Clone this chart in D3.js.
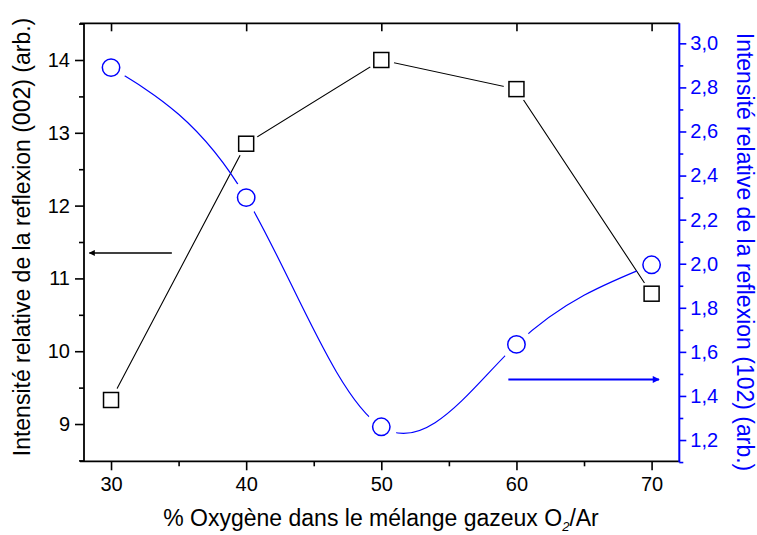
<!DOCTYPE html>
<html><head><meta charset="utf-8">
<script src="https://cdn.jsdelivr.net/npm/d3@7"></script>
<style>body{margin:0;background:#fff}svg{display:block}text{font-family:"Liberation Sans",Arial,sans-serif}</style>
</head><body>
<svg id="c" width="757" height="535"></svg>
<script>
const oxygen = [30, 40, 50, 60, 70];
const refl002 = [9.33, 12.85, 14.0, 13.6, 10.79];
const refl102 = [2.89, 2.30, 1.26, 1.634, 1.995];
const xTicks = [30, 40, 50, 60, 70];
const leftTicks = [9, 10, 11, 12, 13, 14];
const rightTicks = [1.2, 1.4, 1.6, 1.8, 2.0, 2.2, 2.4, 2.6, 2.8, 3.0];
const leftArrow = {x1: 34.5, x2: 28.4, y: 11.35};
const rightArrow = {x1: 59.4, x2: 70.55, y: 1.475};

const W = 757, H = 535;
const L = 84, R = 679.3, T = 23.3, B = 461.3;
const blue = "#0000ff";
const svg = d3.select("#c");

const x = d3.scaleLinear().domain([28, 72.05]).range([L, R]);
const yL = d3.scaleLinear().domain([8.488, 14.504]).range([B, T]);
const yR = d3.scaleLinear().domain([1.1035, 3.0909]).range([B, T]);

const defs = svg.append("defs");
defs.append("marker").attr("id","ahK").attr("viewBox","0 0 10 10").attr("refX",9).attr("refY",5)
  .attr("markerWidth",10).attr("markerHeight",6).attr("markerUnits","userSpaceOnUse").attr("orient","auto")
  .append("path").attr("d","M0,0 L10,5 L0,10 Z").attr("fill","#000");
defs.append("marker").attr("id","ahB").attr("viewBox","0 0 10 10").attr("refX",9).attr("refY",5)
  .attr("markerWidth",11).attr("markerHeight",7).attr("markerUnits","userSpaceOnUse").attr("orient","auto")
  .append("path").attr("d","M0,0 L10,5 L0,10 Z").attr("fill",blue);

const mK = defs.append("mask").attr("id","mK").attr("maskUnits","userSpaceOnUse").attr("x",0).attr("y",0).attr("width",W).attr("height",H);
mK.append("rect").attr("width",W).attr("height",H).attr("fill","#fff");
oxygen.forEach((o,i)=>mK.append("circle").attr("cx",x(o)).attr("cy",yL(refl002[i])).attr("r",13).attr("fill","#000"));
const mB = defs.append("mask").attr("id","mB").attr("maskUnits","userSpaceOnUse").attr("x",0).attr("y",0).attr("width",W).attr("height",H);
mB.append("rect").attr("width",W).attr("height",H).attr("fill","#fff");
oxygen.forEach((o,i)=>mB.append("circle").attr("cx",x(o)).attr("cy",yR(refl102[i])).attr("r",16).attr("fill","#000"));

const fs = 20;
svg.append("g").attr("transform",`translate(0,${B})`)
  .call(d3.axisBottom(x).tickValues(xTicks).tickSize(9).tickPadding(7).tickFormat(d3.format("d")));
svg.append("g").attr("transform",`translate(0,${B})`)
  .call(d3.axisBottom(x).tickValues([35,45,55,65]).tickSize(5).tickFormat(""));
svg.append("g").attr("transform",`translate(0,${T})`)
  .call(d3.axisTop(x).tickValues(xTicks).tickSize(-8).tickFormat(""));
svg.append("g").attr("transform",`translate(${L},0)`)
  .call(d3.axisLeft(yL).tickValues(leftTicks).tickSize(9).tickPadding(5).tickFormat(d3.format("d")));
svg.append("g").attr("transform",`translate(${L},0)`)
  .call(d3.axisLeft(yL).tickValues([8.5,9.5,10.5,11.5,12.5,13.5,14.5]).tickSize(5).tickFormat(""));
const rfmt = d => d3.format(".1f")(d).replace(".", ",");
svg.append("g").attr("class","raxis").attr("transform",`translate(${R},0)`)
  .call(d3.axisRight(yR).tickValues(rightTicks).tickSize(7).tickPadding(4).tickFormat(rfmt));
const rminor = d3.range(12, 31, 2).map(v => (v + 1) / 10).filter(v => v < 3.09);
rminor.push(1.1 + 0.0001);
svg.append("g").attr("class","raxis").attr("transform",`translate(${R},0)`)
  .call(d3.axisRight(yR).tickValues(rminor).tickSize(4).tickFormat(""));

svg.selectAll(".domain").remove();
svg.selectAll(".tick line").attr("stroke","#000").attr("stroke-width",1.6);
svg.selectAll(".tick text").attr("font-size",fs).attr("fill","#000").style("font-family",'"Liberation Sans",Arial,sans-serif');
svg.selectAll(".raxis .tick line").attr("stroke",blue);
svg.selectAll(".raxis .tick text").attr("fill",blue);

svg.append("line").attr("x1",80).attr("x2",R).attr("y1",T).attr("y2",T).attr("stroke","#000").attr("stroke-width",1.8);
svg.append("line").attr("x1",80).attr("x2",R).attr("y1",B).attr("y2",B).attr("stroke","#000").attr("stroke-width",1.8);
svg.append("line").attr("x1",L).attr("x2",L).attr("y1",T).attr("y2",B).attr("stroke","#000").attr("stroke-width",1.8);
svg.append("line").attr("x1",R).attr("x2",R).attr("y1",T).attr("y2",B+0.9).attr("stroke",blue).attr("stroke-width",2);

const lineK = d3.line().x(d=>x(d[0])).y(d=>yL(d[1]));
svg.append("path").datum(oxygen.map((o,i)=>[o,refl002[i]])).attr("d",lineK)
  .attr("fill","none").attr("stroke","#000").attr("stroke-width",1.1).attr("mask","url(#mK)");
const lineB = d3.line().x(d=>x(d[0])).y(d=>yR(d[1])).curve(d3.curveNatural);
svg.append("path").datum(oxygen.map((o,i)=>[o,refl102[i]])).attr("d",lineB)
  .attr("fill","none").attr("stroke",blue).attr("stroke-width",1.2).attr("mask","url(#mB)");

svg.selectAll(".sq").data(oxygen.map((o,i)=>[o,refl002[i]])).enter().append("rect")
  .attr("x",d=>x(d[0])-7.5).attr("y",d=>yL(d[1])-7.5).attr("width",15).attr("height",15)
  .attr("fill","none").attr("stroke","#000").attr("stroke-width",1.5);
svg.selectAll(".ci").data(oxygen.map((o,i)=>[o,refl102[i]])).enter().append("circle")
  .attr("cx",d=>x(d[0])).attr("cy",d=>yR(d[1])).attr("r",8.7)
  .attr("fill","none").attr("stroke",blue).attr("stroke-width",1.5);

svg.append("line").attr("x1",x(leftArrow.x1)).attr("x2",x(leftArrow.x2)).attr("y1",yL(leftArrow.y)).attr("y2",yL(leftArrow.y))
  .attr("stroke","#000").attr("stroke-width",1.6).attr("marker-end","url(#ahK)");
svg.append("line").attr("x1",x(rightArrow.x1)).attr("x2",x(rightArrow.x2)).attr("y1",yR(rightArrow.y)).attr("y2",yR(rightArrow.y))
  .attr("stroke",blue).attr("stroke-width",2).attr("marker-end","url(#ahB)");

svg.append("text").attr("transform",`translate(30,237) rotate(-90)`).attr("text-anchor","middle")
  .attr("font-size",23).attr("fill","#000").text("Intensité relative de la reflexion (002) (arb.)");
svg.append("text").attr("transform",`translate(737,252) rotate(90)`).attr("text-anchor","middle")
  .attr("font-size",23).attr("fill",blue).text("Intensité relative de la reflexion (102) (arb.)");
const xt = svg.append("text").attr("x",381).attr("y",526).attr("text-anchor","middle").attr("font-size",23).attr("fill","#000");
xt.append("tspan").text("% Oxygène dans le mélange gazeux O");
xt.append("tspan").attr("font-size",13).attr("font-style","italic").attr("dy",5).text("2");
xt.append("tspan").attr("dy",-5).text("/Ar");
</script>
</body></html>
